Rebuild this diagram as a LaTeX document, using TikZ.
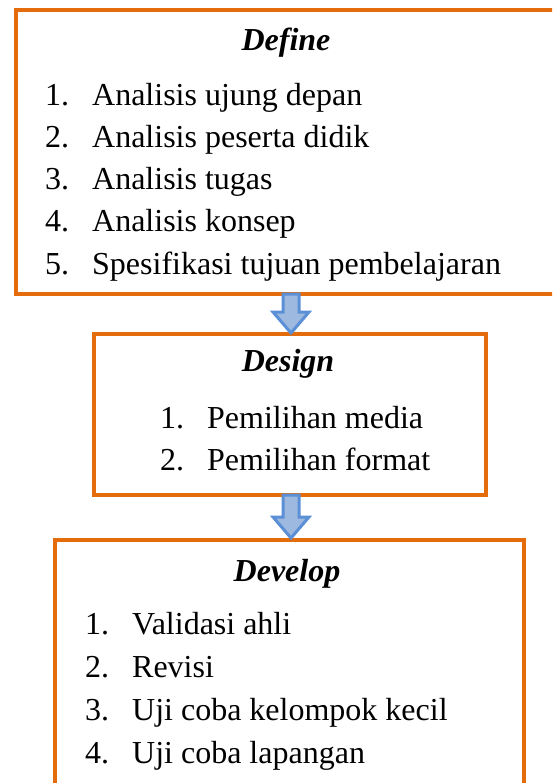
\documentclass[tikz,border=0pt]{standalone}
\usepackage{fontspec}
\setmainfont{Liberation Serif}
\usetikzlibrary{calc}

\definecolor{boxorange}{HTML}{E46C0A}
\definecolor{arrowblue}{HTML}{5B8FD6}
\definecolor{arrowfill}{HTML}{9DB9E0}

\tikzset{
  phasebox/.style={draw=boxorange, line width=4pt, inner sep=0pt, anchor=north west},
  phasetitle/.style={anchor=base, inner sep=0pt, font=\fontsize{32}{38}\selectfont\bfseries\itshape},
  itemtext/.style={anchor=base west, inner sep=0pt, font=\fontsize{32}{38}\selectfont},
  blockarrow/.style={draw=arrowblue, fill=arrowfill, line width=3pt, line join=miter}
}

% numbered entry: number, then text at a fixed indent
\newcommand{\entry}[2]{\makebox[47pt][l]{#1.}#2}

\begin{document}
\begin{tikzpicture}[x=1pt, y=-1pt]
    \useasboundingbox (0,0) rectangle (552,783);
    \clip (0,0) rectangle (552,783);

    % Define box
    \node[phasebox, minimum width=556pt, minimum height=284pt] (define) at (14,8) {};
    \node[phasetitle] (define-title) at (286,51) {Define};
    \node[itemtext] (define-1) at (45,106) {\entry{1}{Analisis ujung depan}};
    \node[itemtext] (define-2) at (45,148) {\entry{2}{Analisis peserta didik}};
    \node[itemtext] (define-3) at (45,190) {\entry{3}{Analisis tugas}};
    \node[itemtext] (define-4) at (45,232) {\entry{4}{Analisis konsep}};
    \node[itemtext] (define-5) at (45,274) {\entry{5}{Spesifikasi tujuan pembelajaran}};

    % Design box
    \node[phasebox, minimum width=392pt, minimum height=161pt] (design) at (92,332) {};
    \node[phasetitle] (design-title) at (288,371) {Design};
    \node[itemtext] (design-1) at (160,428) {\entry{1}{Pemilihan media}};
    \node[itemtext] (design-2) at (160,470) {\entry{2}{Pemilihan format}};

    % Develop box
    \node[phasebox, minimum width=469pt, minimum height=262pt] (develop) at (53,538) {};
    \node[phasetitle] (develop-title) at (287,581) {Develop};
    \node[itemtext] (develop-1) at (85,634) {\entry{1}{Validasi ahli}};
    \node[itemtext] (develop-2) at (85,677) {\entry{2}{Revisi}};
    \node[itemtext] (develop-3) at (85,720) {\entry{3}{Uji coba kelompok kecil}};
    \node[itemtext] (develop-4) at (85,763) {\entry{4}{Uji coba lapangan}};

    % Block arrows between the phases
    \coordinate (a1-top) at ($(define.south -| design.north)+(1,-2)$);
    \coordinate (a1-tip) at ($(design.north)+(1,1)$);
    \draw[blockarrow] ($(a1-top)+(-8,0)$) -- ($(a1-tip)+(-8,-21)$) -- ($(a1-tip)+(-18,-21)$)
        -- (a1-tip) -- ($(a1-tip)+(18,-21)$) -- ($(a1-tip)+(8,-21)$) -- ($(a1-top)+(8,0)$) -- cycle;

    \coordinate (a2-top) at ($(design.south)+(1,-2)$);
    \coordinate (a2-tip) at ($(develop.north -| design.south)+(1,0)$);
    \draw[blockarrow] ($(a2-top)+(-8,0)$) -- ($(a2-tip)+(-8,-21)$) -- ($(a2-tip)+(-18,-21)$)
        -- (a2-tip) -- ($(a2-tip)+(18,-21)$) -- ($(a2-tip)+(8,-21)$) -- ($(a2-top)+(8,0)$) -- cycle;
\end{tikzpicture}
\end{document}
